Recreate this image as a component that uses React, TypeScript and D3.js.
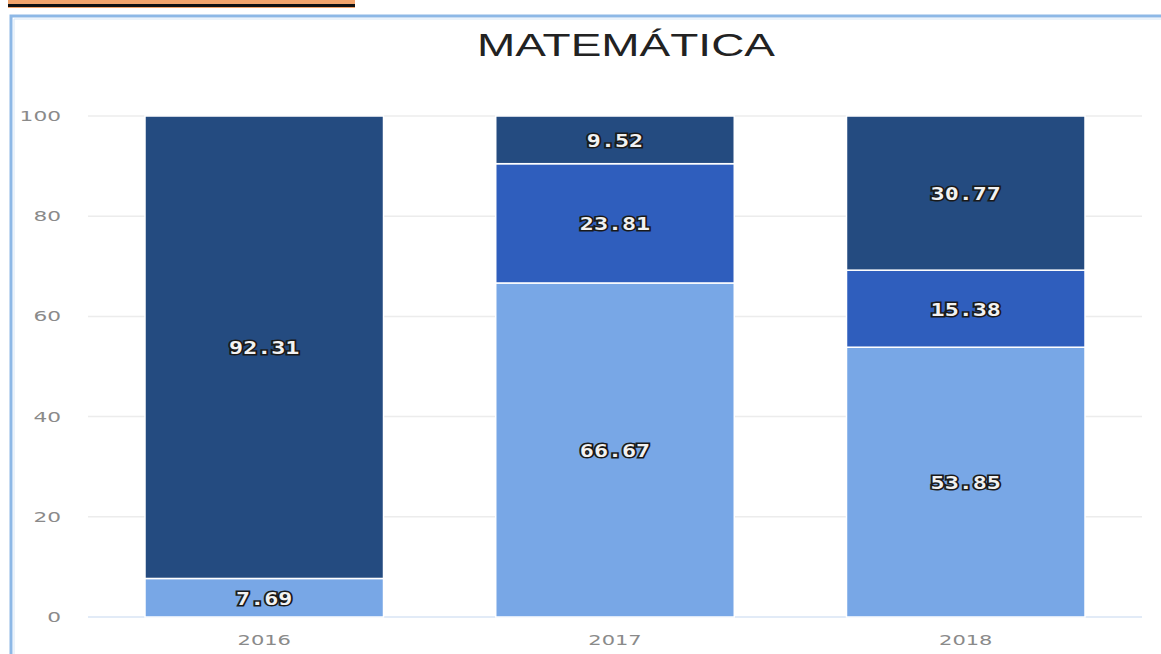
import React, { useRef, useEffect } from 'react';
import * as d3 from 'd3';

const years = ['2016', '2017', '2018'];
const seriesKeys = ['low', 'mid', 'high'];
const lowValues = [7.69, 66.67, 53.85];
const midValues = [0, 23.81, 15.38];
const highValues = [92.31, 9.52, 30.77];
const yTicks = [0, 20, 40, 60, 80, 100];
const colors = ['#78a7e6', '#2f5ebd', '#244b80'];

const width = 1161;
const height = 654;

const App = () => {
  const ref = useRef<SVGSVGElement | null>(null);

  useEffect(() => {
    if (!ref.current) return;
    const margin = { top: 116, right: 19, bottom: 37, left: 88 };

    const rows = years.map((year, i) => ({
      year,
      low: lowValues[i],
      mid: midValues[i],
      high: highValues[i],
    }));

    const series = d3.stack<any>().keys(seriesKeys)(rows);

    const x = d3
      .scaleBand(years, [margin.left, width - margin.right])
      .paddingInner(0.32)
      .paddingOuter(0.1625);

    const y = d3
      .scaleLinear()
      .domain([0, 100])
      .range([height - margin.bottom, margin.top]);

    const svg = d3.select(ref.current);
    svg.selectAll('*').remove();

    // orange strip cut at the top
    svg.append('rect').attr('x', 8).attr('y', 0).attr('width', 347).attr('height', 8).attr('fill', '#f2a46c');
    svg.append('rect').attr('x', 8).attr('y', 4).attr('width', 347).attr('height', 3).attr('fill', '#111');

    // light blue frame
    svg
      .append('path')
      .attr('d', `M11,${height} V16 H${width}`)
      .attr('fill', 'none')
      .attr('stroke', '#8db8e6')
      .attr('stroke-width', 3);
    svg
      .append('path')
      .attr('d', `M14,${height} V19 H${width}`)
      .attr('fill', 'none')
      .attr('stroke', '#d6e6f6')
      .attr('stroke-width', 1);

    // the source picture is stretched horizontally
    svg
      .append('text')
      .attr('transform', 'translate(626,56) scale(1.46,1)')
      .attr('text-anchor', 'middle')
      .attr('font-family', 'Liberation Sans, Arial, sans-serif')
      .attr('font-size', 31.5)
      .attr('fill', '#222')
      .text('MATEMÁTICA');

    // grid
    svg
      .append('g')
      .selectAll('line')
      .data(yTicks)
      .join('line')
      .attr('x1', margin.left)
      .attr('x2', width - margin.right)
      .attr('y1', (d) => y(d))
      .attr('y2', (d) => y(d))
      .attr('stroke', (d) => (d === 0 ? '#d8e4f4' : '#ececec'))
      .attr('stroke-width', 1.5);

    svg
      .append('g')
      .selectAll('text')
      .data(yTicks)
      .join('text')
      .attr('transform', (d) => `translate(61,${y(d) + 5}) scale(1.55,1)`)
      .attr('text-anchor', 'end')
      .attr('font-family', 'DejaVu Sans, sans-serif')
      .attr('font-size', 14)
      .attr('fill', '#8a8a8a')
      .text((d) => d);

    svg
      .append('g')
      .selectAll('text')
      .data(years)
      .join('text')
      .attr(
        'transform',
        (d) => `translate(${(x(d) || 0) + x.bandwidth() / 2},${height - 9}) scale(1.5,1)`
      )
      .attr('text-anchor', 'middle')
      .attr('font-family', 'DejaVu Sans, sans-serif')
      .attr('font-size', 14)
      .attr('fill', '#8a8a8a')
      .text((d) => d);

    const layers = svg
      .append('g')
      .selectAll('g')
      .data(series)
      .join('g')
      .attr('fill', (d, i) => colors[i]);

    layers
      .selectAll('rect')
      .data((d) => d.filter((v) => v[1] - v[0] > 0))
      .join('rect')
      .attr('x', (d: any) => x(d.data.year) || 0)
      .attr('y', (d) => y(d[1]))
      .attr('height', (d) => y(d[0]) - y(d[1]))
      .attr('width', x.bandwidth())
      .attr('stroke', '#fff')
      .attr('stroke-width', 1.5);

    layers
      .selectAll('text')
      .data((d) => d.filter((v) => v[1] - v[0] > 0))
      .join('text')
      .attr(
        'transform',
        (d: any) =>
          `translate(${(x(d.data.year) || 0) + x.bandwidth() / 2},${(y(d[0]) + y(d[1])) / 2 + 7}) scale(1.3,1)`
      )
      .attr('text-anchor', 'middle')
      .attr('font-family', 'DejaVu Sans Mono, monospace')
      .attr('font-weight', 'bold')
      .attr('font-size', 18)
      .attr('fill', '#f2f2f2')
      .attr('stroke', '#1a1a1a')
      .attr('stroke-width', 3)
      .attr('paint-order', 'stroke')
      .text((d) => (d[1] - d[0]).toFixed(2));
  }, []);

  return (
    <svg
      ref={ref}
      width={width}
      height={height}
      style={{ position: 'absolute', left: 0, top: 0, background: '#fff' }}
    />
  );
};

export default App;
